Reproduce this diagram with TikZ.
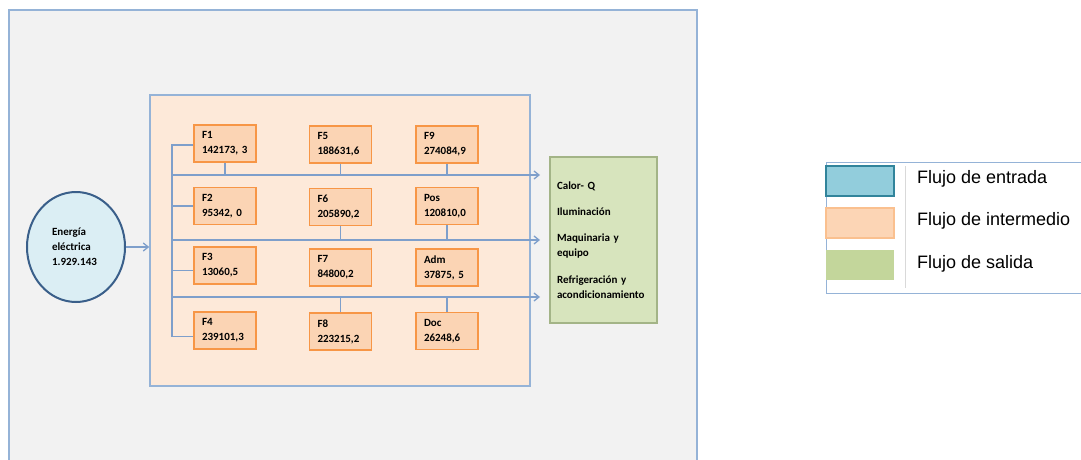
\documentclass[tikz,border=0pt]{standalone}
\usepackage{fontspec}
\setmainfont{Carlito}
\newfontfamily\arial{Liberation Sans}
\usetikzlibrary{shapes.geometric,arrows.meta,positioning}

\definecolor{fondo}{HTML}{F2F2F2}
\definecolor{borde}{HTML}{95B3D7}
\definecolor{linea}{HTML}{7E9FCB}
\definecolor{planta}{HTML}{FDE9D9}
\definecolor{caja}{HTML}{FBD4B4}
\definecolor{cajaborde}{HTML}{F79646}
\definecolor{energia}{HTML}{DBEEF4}
\definecolor{energiaborde}{HTML}{3A5F8A}
\definecolor{salida}{HTML}{D7E4BD}
\definecolor{salidaborde}{HTML}{A3B487}
\definecolor{entrada}{HTML}{92CDDC}
\definecolor{entradaborde}{HTML}{31849B}
\definecolor{intermedio}{HTML}{FCD5B5}
\definecolor{intermedioborde}{HTML}{FAC08F}
\definecolor{verde}{HTML}{C3D69B}
\definecolor{gris}{HTML}{D9D9D9}

\tikzset{
  letra/.style={font=\fontsize{11}{15}\selectfont\bfseries},
  flujo/.style={letra, draw=cajaborde, fill=caja, line width=1.5pt,
    minimum height=37pt, text width=46pt, inner xsep=8pt, align=left},
  conector/.style={draw=linea, line width=1.3pt},
  flecha/.style={conector, -{Straight Barb[length=5pt,width=8pt]}},
  muestra/.style={minimum width=68pt, minimum height=30pt, line width=1.5pt},
  leyendatexto/.style={anchor=west, font=\arial\fontsize{18}{21}\selectfont}
}

\begin{document}
\begin{tikzpicture}[x=1pt,y=-1pt]

      \path[use as bounding box, clip] (0,0) rectangle (1081,460);
      \filldraw[fill=fondo, draw=borde, line width=2pt] (9,10) rectangle (697,480);

      \node[draw=borde, fill=planta, line width=1.5pt, minimum width=380pt,
        minimum height=291pt] (planta) at (340,240.5) {};

      \node[ellipse, draw=energiaborde, fill=energia, line width=2pt,
        minimum width=98pt, minimum height=110pt, text width=48pt, align=left,
        letra] (energia) at (76,247) {Energía\\eléctrica\\1.929.143};

      \begin{scope}[every node/.style={flujo}]
        \node (f1)  at (225,143.5)   {F1\\142173, 3};
        \node (f2)  at (225,206)     {F2\\95342, 0};
        \node (f3)  at (225,265.5)   {F3\\13060,5};
        \node (f4)  at (225,330.5)   {F4\\239101,3};
        \node (f5)  at (340.5,144.5) {F5\\188631,6};
        \node (f6)  at (340.5,207)   {F6\\205890,2};
        \node (f7)  at (340.5,267.5) {F7\\84800,2};
        \node (f8)  at (340.5,331.5) {F8\\223215,2};
        \node (f9)  at (447,144.5)   {F9\\274084,9};
        \node (pos) at (447,206)     {Pos\\120810,0};
        \node (adm) at (447,267.5)   {Adm\\37875, 5};
        \node (doc) at (447,331)     {Doc\\26248,6};
      \end{scope}

      \node[letra, draw=salidaborde, fill=salida, line width=1.5pt,
        minimum width=107pt, minimum height=166pt, text width=93pt,
        inner xsep=7pt, align=left] (usos) at (603.5,240)
        {Calor- Q\\[11pt] Iluminación\\[11pt] Maquinaria y\\ equipo\\[12pt]
         Refrigeración y\\ acondicionamiento};

      \coordinate (t1) at (172,145);
      \coordinate (t4) at (172,336.5);
      \coordinate (b1) at (172,175);
      \coordinate (b2) at (172,240);
      \coordinate (b3) at (172,297);
      \coordinate (s1) at (540,175);
      \coordinate (s2) at (540,240);
      \coordinate (s3) at (540,297);

      \draw[flecha] (energia.east) -- (energia.east -| planta.west);

      \draw[conector] (f1.west |- t1) -- (t1) -- (t4) -- (f4.west |- t4);
      \draw[conector] (f2.west) -- (f2.west -| t1);
      \draw[conector] ([yshift=-5pt]f3.west) -- ([yshift=-5pt]f3.west -| t1);

      \draw[flecha] (b1) -- (s1);
      \draw[flecha] (b2) -- (s2);
      \draw[flecha] (b3) -- (s3);

      \draw[conector] (f1.south) -- (f1.south |- b1);
      \draw[conector] (f5.south) -- (f5.south |- b1);
      \draw[conector] (f9.south) -- (f9.south |- b1);
      \draw[conector] (f6.south) -- (f6.south |- b2);
      \draw[conector] (pos.south) -- (pos.south |- b2);
      \draw[conector] (f8.north) -- (f8.north |- b3);
      \draw[conector] (doc.north) -- (doc.north |- b3);

      \node[draw=borde, line width=1pt, fill=white, minimum width=264pt,
        minimum height=131pt, anchor=north west] (leyenda) at (826,162) {};
      \draw[gris, line width=1pt] (905,166) -- (905,288);

      \node[muestra, draw=entradaborde, fill=entrada] (m1) at (860,181) {};
      \node[muestra, draw=intermedioborde, fill=intermedio] (m2) at (860,223) {};
      \node[muestra, fill=verde] (m3) at (860,265) {};

      \node[leyendatexto] (e1) at (913.5,179) {Flujo de entrada};
      \node[leyendatexto] (e2) at (913.5,221) {Flujo de intermedio};
      \node[leyendatexto] (e3) at (913.5,264) {Flujo de salida};

    \end{tikzpicture}
\end{document}
